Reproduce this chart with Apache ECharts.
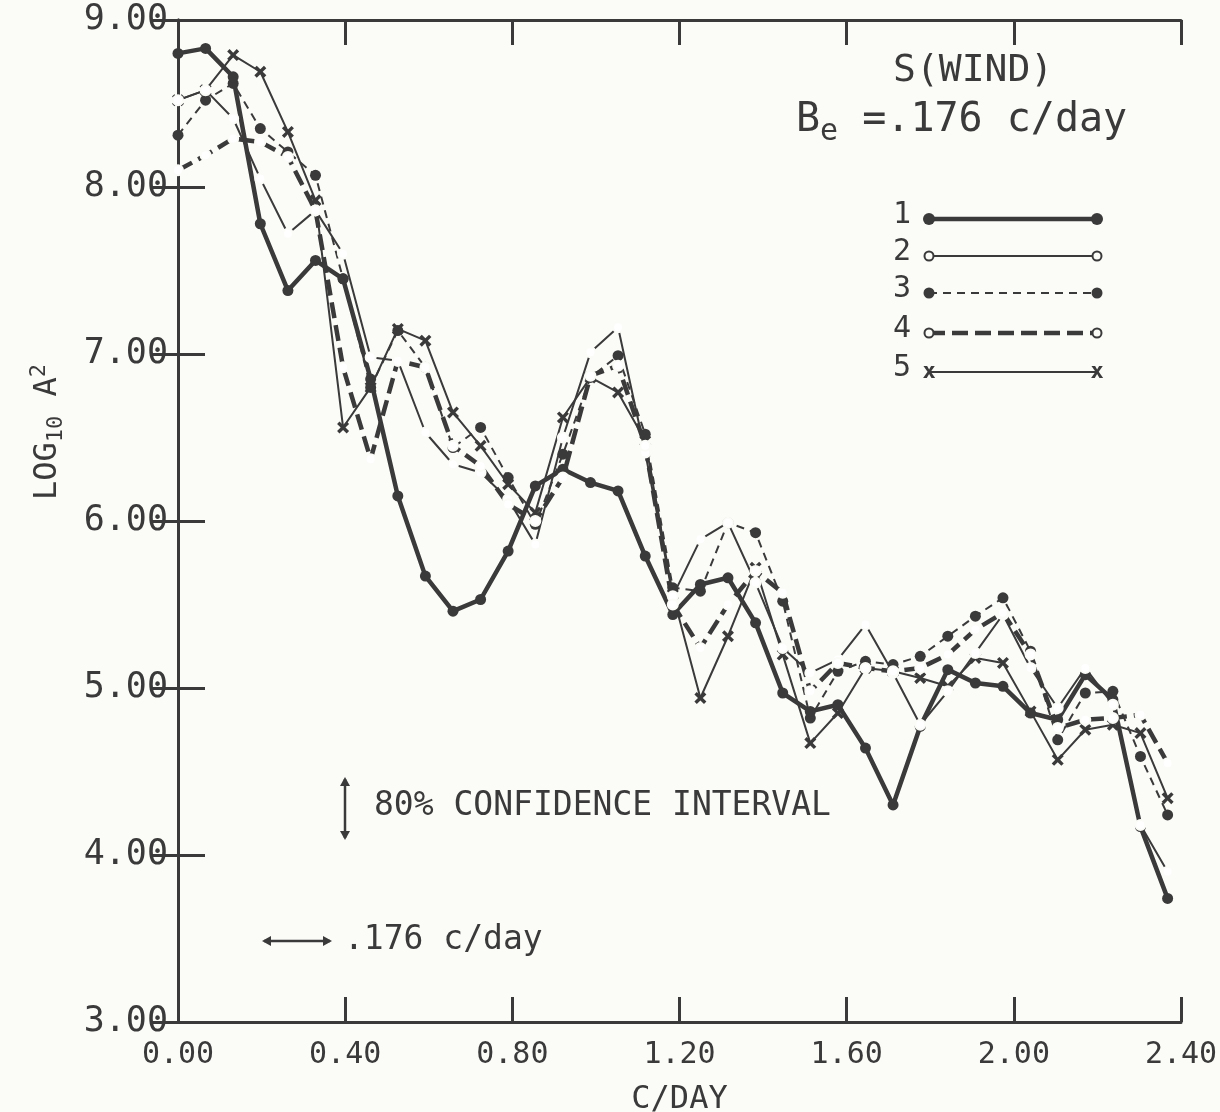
<!DOCTYPE html>
<html>
<head>
<meta charset="utf-8">
<script src="https://cdn.jsdelivr.net/npm/echarts@6/dist/echarts.min.js"></script>
<style>
html,body{margin:0;padding:0;background:#fbfbf8;}
#chart{width:1220px;height:1112px;}
</style>
</head>
<body>
<div id="chart"></div>
<script>
// Frequencies (c/day) of the spectral estimates
const freq = [0.000, 0.066, 0.132, 0.197, 0.263, 0.329, 0.395, 0.461, 0.526, 0.592,
              0.658, 0.724, 0.790, 0.855, 0.921, 0.987, 1.053, 1.118, 1.184, 1.250,
              1.316, 1.382, 1.447, 1.513, 1.579, 1.645, 1.711, 1.776, 1.842, 1.908,
              1.974, 2.040, 2.105, 2.171, 2.237, 2.303, 2.368];

// log10 A^2 for the five records
const s1 = [8.80, 8.83, 8.66, 7.78, 7.38, 7.56, 7.45, 6.85, 6.15, 5.67,
            5.46, 5.53, 5.82, 6.21, 6.31, 6.23, 6.18, 5.79, 5.44, 5.62,
            5.66, 5.39, 4.97, 4.86, 4.90, 4.64, 4.30, 4.77, 5.11, 5.03,
            5.01, 4.85, 4.81, 5.08, 4.93, 4.17, 3.74];
const s2 = [8.52, 8.58, 8.41, 8.05, 7.72, 7.86, 7.60, 6.98, 6.96, 6.53,
            6.34, 6.29, 6.13, 5.86, 6.50, 7.01, 7.16, 6.41, 5.55, 5.89,
            5.99, 5.63, 5.24, 5.09, 5.17, 5.38, 5.09, 4.78, 4.98, 5.21,
            5.44, 5.12, 4.88, 5.12, 4.90, 4.18, 3.90];
const s3 = [8.31, 8.52, 8.62, 8.35, 8.21, 8.07, 7.45, 6.80, 7.14, 6.92,
            6.44, 6.56, 6.26, 5.98, 6.40, 6.86, 6.99, 6.52, 5.60, 5.58,
            5.99, 5.93, 5.52, 4.82, 5.10, 5.16, 5.14, 5.19, 5.31, 5.43,
            5.54, 5.22, 4.69, 4.97, 4.98, 4.59, 4.24];
const s4 = [8.10, 8.19, 8.29, 8.27, 8.18, 7.86, 6.92, 6.37, 6.96, 6.92,
            6.45, 6.33, 6.10, 6.00, 6.26, 6.87, 6.93, 6.45, 5.50, 5.24,
            5.50, 5.70, 5.57, 4.98, 5.15, 5.12, 5.10, 5.12, 5.20, 5.35,
            5.45, 5.20, 4.76, 4.81, 4.82, 4.84, 4.55];
const s5 = [8.52, 8.58, 8.79, 8.69, 8.33, 7.92, 6.56, 6.80, 7.15, 7.08,
            6.65, 6.45, 6.22, 6.05, 6.62, 6.86, 6.77, 6.48, 5.56, 4.94,
            5.31, 5.72, 5.20, 4.67, 4.85, 5.12, 5.10, 5.06, 5.01, 5.18,
            5.15, 4.86, 4.57, 4.75, 4.78, 4.73, 4.34];

const seriesNames = ['1', '2', '3', '4', '5'];

const INK = '#3a3a3a';
const BG = '#fbfbf8';
const FONT = 'DejaVu Sans Mono';
const XMARK = 'path://M0,2 L2,0 L5,3 L8,0 L10,2 L7,5 L10,8 L8,10 L5,7 L2,10 L0,8 L3,5 Z';

function pts(arr) { return freq.map((f, i) => [f, arr[i]]); }

const chart = echarts.init(document.getElementById('chart'), null, {renderer: 'canvas'});

const axisCommonX = {
  type: 'value', min: 0, max: 2.4, interval: 0.4,
  axisLine: {show: true, lineStyle: {color: INK, width: 3}},
  axisTick: {show: true, inside: true, length: 25, lineStyle: {color: INK, width: 3}},
  splitLine: {show: false}
};
const axisCommonY = {
  type: 'value', min: 3, max: 9, interval: 1,
  axisLine: {show: true, lineStyle: {color: INK, width: 3}},
  axisTick: {show: true, inside: true, length: 27, lineStyle: {color: INK, width: 3}},
  splitLine: {show: false}
};

// legend drawn as graphic (line with markers at both ends)
const legendY = [219, 256, 293, 333, 372];
const legendGraphics = [];
const lx0 = 929, lx1 = 1097;
seriesNames.forEach((n, i) => {
  const y = legendY[i];
  legendGraphics.push({type: 'text', left: 893, top: y - 19,
    style: {text: n, font: '30px "' + FONT + '"', fill: INK}});
  const ls = [
    {lineWidth: 4.5, lineDash: null},
    {lineWidth: 2, lineDash: null},
    {lineWidth: 2, lineDash: [8, 6]},
    {lineWidth: 4.5, lineDash: [16, 7]},
    {lineWidth: 2, lineDash: null}
  ][i];
  legendGraphics.push({type: 'line', shape: {x1: lx0, y1: y, x2: lx1, y2: y},
    style: {stroke: INK, lineWidth: ls.lineWidth, lineDash: ls.lineDash}});
  [lx0, lx1].forEach(x => {
    if (i === 0 || i === 2) {
      legendGraphics.push({type: 'circle', shape: {cx: x, cy: y, r: i === 0 ? 6 : 5.5}, style: {fill: INK}});
    } else if (i === 1 || i === 3) {
      legendGraphics.push({type: 'circle', shape: {cx: x, cy: y, r: 4.5}, style: {fill: BG, stroke: INK, lineWidth: 2}});
    } else {
      legendGraphics.push({type: 'text', x: x, y: y, style: {text: 'x', font: 'bold 22px "' + FONT + '"', fill: INK, textAlign: 'center', textVerticalAlign: 'middle'}});
    }
  });
});

function arrowHead(x, y, dir) {
  const s = 9, w = 5;
  let p;
  if (dir === 'up') p = [[x, y], [x - w, y + s], [x + w, y + s]];
  if (dir === 'down') p = [[x, y], [x - w, y - s], [x + w, y - s]];
  if (dir === 'left') p = [[x, y], [x + s, y - w], [x + s, y + w]];
  if (dir === 'right') p = [[x, y], [x - s, y - w], [x - s, y + w]];
  return {type: 'polygon', shape: {points: p}, style: {fill: INK}};
}

const graphics = [
  {type: 'text', left: 893, top: 52, style: {text: 'S(WIND)', font: '38px "' + FONT + '"', fill: INK}},
  {type: 'text', left: 796, top: 101,
    style: {rich: {b: {font: '40px "' + FONT + '"', fill: INK}, e: {font: '30px "' + FONT + '"', fill: INK, padding: [22, 0, 0, 0]}},
      text: '{b|B}{e|e}{b| =.176 c/day}', fill: INK}},
  // y axis title
  {type: 'text', x: 48, y: 432, rotation: Math.PI / 2,
    style: {
      text: '{a|LOG}{s|10}{a| A}{p|2}',
      textAlign: 'center', textVerticalAlign: 'middle',
      rich: {
        a: {font: '32px "' + FONT + '"', fill: INK},
        s: {font: '22px "' + FONT + '"', fill: INK, padding: [16, 0, 0, 0]},
        p: {font: '22px "' + FONT + '"', fill: INK, padding: [0, 0, 18, 0]}
      }
    }},
  // confidence interval arrow
  {type: 'line', shape: {x1: 345, y1: 779, x2: 345, y2: 838}, style: {stroke: INK, lineWidth: 2.5}},
  arrowHead(345, 777, 'up'), arrowHead(345, 840, 'down'),
  {type: 'text', left: 374, top: 790, style: {text: '80% CONFIDENCE INTERVAL', font: '33px "' + FONT + '"', fill: INK}},
  // bandwidth arrow
  {type: 'line', shape: {x1: 264, y1: 941, x2: 330, y2: 941}, style: {stroke: INK, lineWidth: 2.5}},
  arrowHead(262, 941, 'left'), arrowHead(332, 941, 'right'),
  {type: 'text', left: 344, top: 924, style: {text: '.176 c/day', font: '33px "' + FONT + '"', fill: INK}}
].concat(legendGraphics);

const option = {
  backgroundColor: BG,
  animation: false,
  grid: {left: 178, right: 39, top: 20, bottom: 90, containLabel: false, outerBoundsMode: 'none'},
  xAxis: [
    Object.assign({}, axisCommonX, {
      position: 'bottom',
      axisLabel: {formatter: v => v.toFixed(2), fontSize: 30, fontFamily: FONT, color: INK, margin: 18},
      name: 'C/DAY', nameLocation: 'middle', nameGap: 62,
      nameTextStyle: {fontSize: 32, fontFamily: FONT, color: INK}
    }),
    Object.assign({}, axisCommonX, {position: 'top', axisLabel: {show: false}})
  ],
  yAxis: [
    Object.assign({}, axisCommonY, {
      position: 'left',
      axisLabel: {formatter: v => v.toFixed(2), fontSize: 35, fontFamily: FONT, color: INK, margin: 10}
    }),
    Object.assign({}, axisCommonY, {position: 'right', axisLabel: {show: false}})
  ],
  series: [
    {name: seriesNames[0], type: 'line', data: pts(s1), symbol: 'circle', symbolSize: 11,
      lineStyle: {color: INK, width: 4.5}, itemStyle: {color: INK}, z: 5},
    {name: seriesNames[1], type: 'line', data: pts(s2), symbol: 'emptyCircle', symbolSize: 10,
      lineStyle: {color: INK, width: 2}, itemStyle: {color: BG, borderColor: INK, borderWidth: 2.2}, z: 6},
    {name: seriesNames[2], type: 'line', data: pts(s3), symbol: 'circle', symbolSize: 11,
      lineStyle: {color: INK, width: 2, type: [8, 6]}, itemStyle: {color: INK}, z: 4},
    {name: seriesNames[3], type: 'line', data: pts(s4), symbol: 'emptyCircle', symbolSize: 10,
      lineStyle: {color: INK, width: 4.5, type: [16, 7]}, itemStyle: {color: BG, borderColor: INK, borderWidth: 2.2}, z: 6},
    {name: seriesNames[4], type: 'line', data: pts(s5), symbol: XMARK, symbolSize: 12,
      lineStyle: {color: INK, width: 2}, itemStyle: {color: INK}, z: 3}
  ],
  graphic: graphics
};
chart.setOption(option);
</script>
</body>
</html>
